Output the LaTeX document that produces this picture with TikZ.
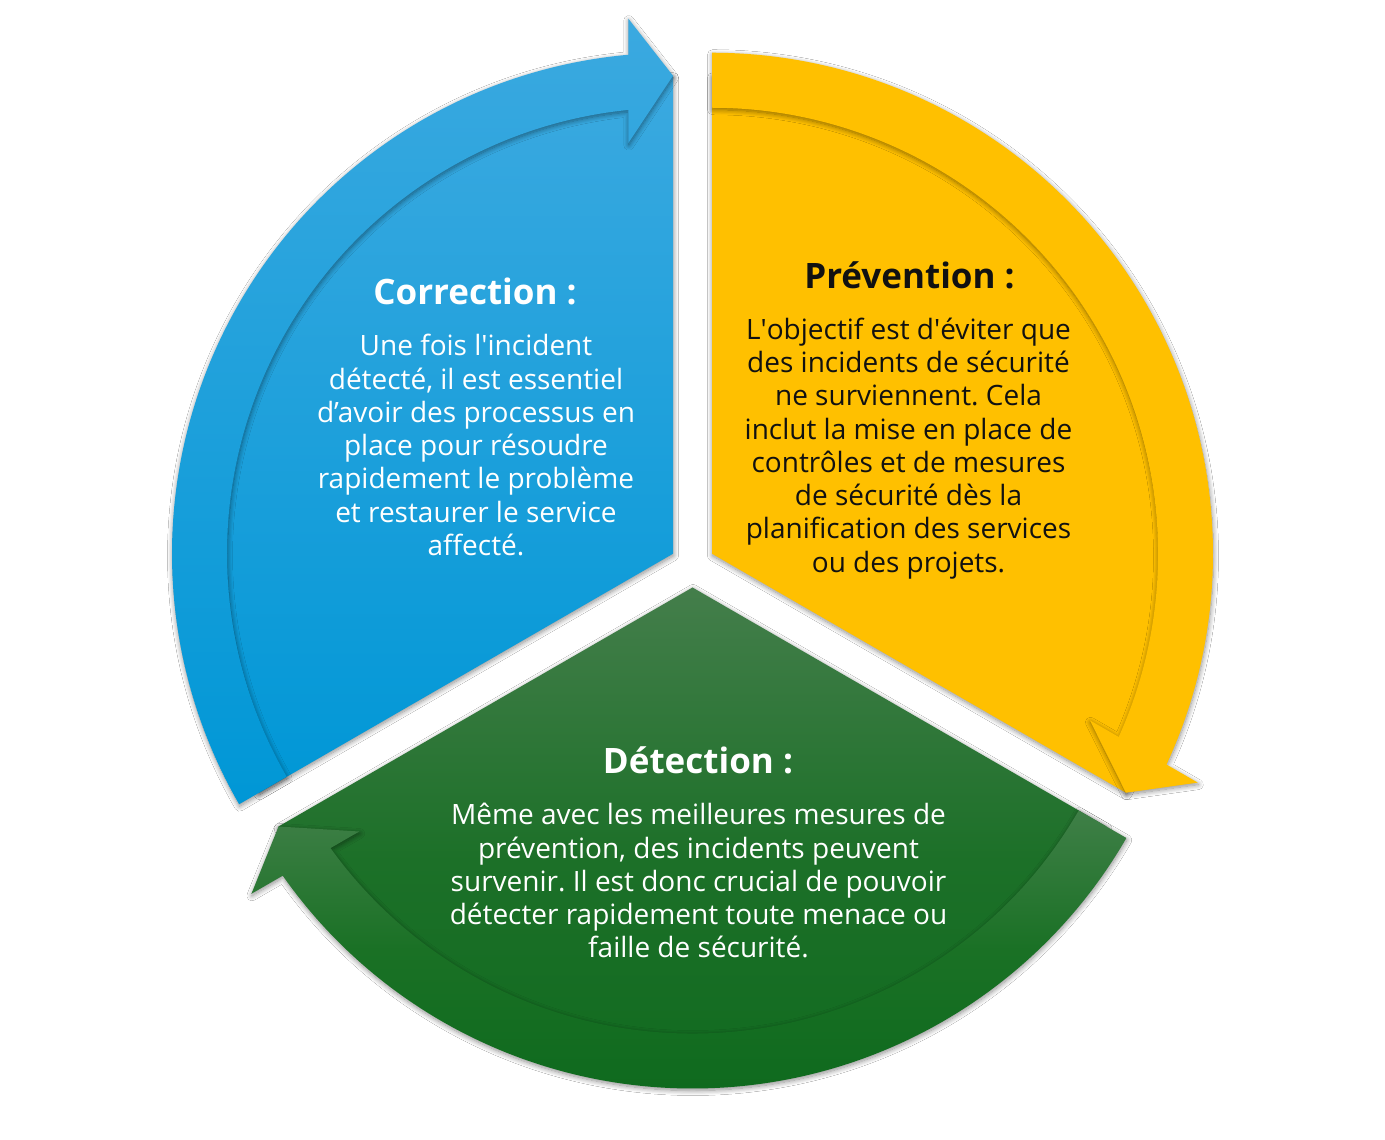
\documentclass[tikz,border=0pt]{standalone}
\usepackage{fontspec}
\setmainfont{Open Sans}
\usetikzlibrary{shadows.blur}
\frenchspacing

\definecolor{bluetop}{HTML}{3BA9E0}
\definecolor{bluebot}{HTML}{0097D6}
\definecolor{yel}{HTML}{FFC000}
\definecolor{gwtop}{HTML}{447E4B}
\definecolor{gwmid}{HTML}{1C7028}
\definecolor{gwbot}{HTML}{0F6A1E}
\definecolor{gbtop}{HTML}{3F7F47}
\definecolor{gbmid}{HTML}{1A7125}
\definecolor{gbbot}{HTML}{0F6A1E}
\definecolor{ink}{HTML}{111111}

\tikzset{
  softshadow/.style={blur shadow={shadow xshift=0.5pt, shadow yshift=-2pt,
      shadow blur radius=5pt, shadow blur steps=10, shadow opacity=45}},
  titletext/.style={font=\bfseries\fontsize{35}{40}\selectfont, anchor=base, inner sep=0pt},
  bodytext/.style={font=\fontsize{28}{33}\selectfont, anchor=base, inner sep=0pt},
  wedgeshape/.style={insert path={(0,0) -- (90:478) arc[start angle=90, end angle=210, radius=478pt] -- cycle}},
  bandshape/.style={insert path={(210:501) arc[start angle=210, end angle=95.12, radius=501pt]
      -- (-44.7,535.1) -- (0,478) -- (-44.7,410.6) -- (-44.7,443.8)
      arc[start angle=95.75, end angle=210, radius=446pt] -- cycle}},
}

\begin{document}
\begin{tikzpicture}[x=1pt,y=1pt]
\fill[white] (0,0) rectangle (1385,1140);
\useasboundingbox (0,0) rectangle (1385,1140);

% Correction (blue)
\begin{scope}[shift={(673,586.25)}]
  \path[softshadow, top color=bluetop, bottom color=bluebot, wedgeshape];
  \path[softshadow, top color=bluetop, bottom color=bluebot, bandshape];
\end{scope}

% Prevention (yellow)
\begin{scope}[shift={(712,586.25)}, rotate=-120]
  \path[softshadow, fill=yel, wedgeshape];
  \path[softshadow, fill=yel, bandshape];
\end{scope}

% Detection (green)
\begin{scope}[shift={(692.5,552.5)}, rotate=120]
  \path[softshadow, top color=gwtop, bottom color=gwbot, middle color=gwmid, wedgeshape];
  \path[softshadow, top color=gbtop, bottom color=gbbot, middle color=gbmid, bandshape];
\end{scope}

% Texts
\node[titletext, text=white] (cortitle) at (475, 1140-305) {Correction :};
\foreach \t [count=\i] in {Une fois l\textquotesingle incident, {détecté, il est essentiel},
  d’avoir des processus en, place pour résoudre, rapidement le problème,
  et restaurer le service, affecté.}
  \node[bodytext, text=white] (cor\i) at (476, {1140-356-33.25*(\i-1)}) {\t};

\node[titletext, text=ink] (pretitle) at (909.5, 1140-289) {Prévention :};
\foreach \t [count=\i] in {L\textquotesingle objectif est d\textquotesingle éviter que,
  des incidents de sécurité, ne surviennent. Cela, inclut la mise en place de,
  contrôles et de mesures, de sécurité dès la, planification des services,
  ou des projets.}
  \node[bodytext, text=ink] (pre\i) at (908.5, {1140-339.5-33.25*(\i-1)}) {\t};

\node[titletext, text=white] (dettitle) at (698, 1140-773.5) {Détection :};
\foreach \t [count=\i] in {Même avec les meilleures mesures de,
  {prévention, des incidents peuvent}, survenir. Il est donc crucial de pouvoir,
  détecter rapidement toute menace ou, faille de sécurité.}
  \node[bodytext, text=white] (det\i) at (698.5, {1140-825-33.2*(\i-1)}) {\t};
\end{tikzpicture}
\end{document}
